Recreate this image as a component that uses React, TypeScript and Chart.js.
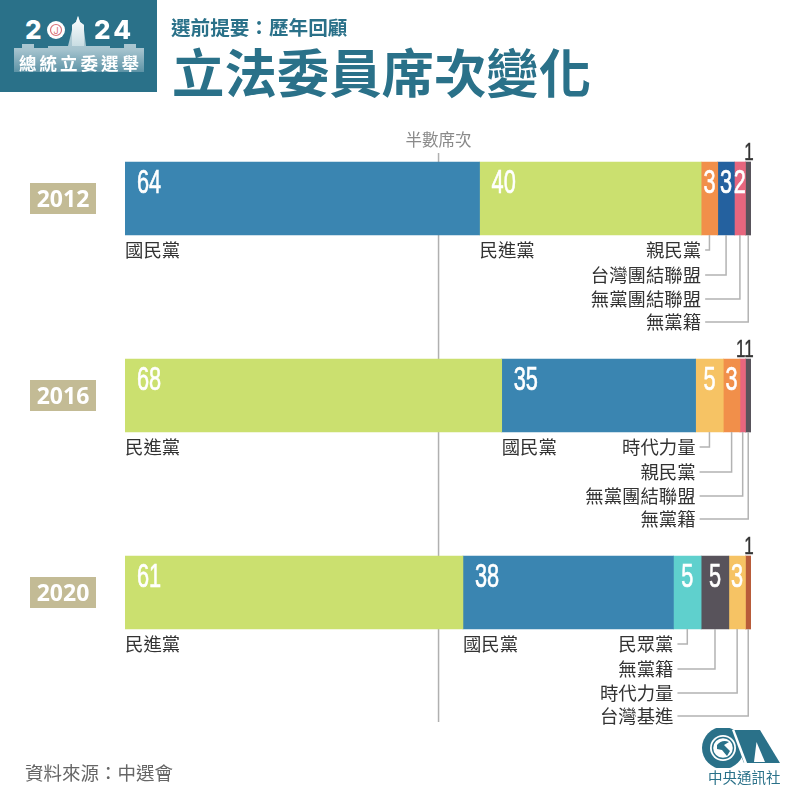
import React, { useEffect, useRef } from "react";
import { Chart, registerables } from "chart.js";

Chart.register(...registerables);

const years = ["2012", "2016", "2020"];
const parties2012 = ["國民黨", "民進黨", "親民黨", "台灣團結聯盟", "無黨團結聯盟", "無黨籍"];
const seats2012 = [64, 40, 3, 3, 2, 1];
const parties2016 = ["民進黨", "國民黨", "時代力量", "親民黨", "無黨團結聯盟", "無黨籍"];
const seats2016 = [68, 35, 5, 3, 1, 1];
const parties2020 = ["民進黨", "國民黨", "民眾黨", "無黨籍", "時代力量", "台灣基進"];
const seats2020 = [61, 38, 5, 5, 3, 1];
const totalSeats = 113;
const halfMark = 56.6;
const halfLabel = "半數席次";

const partyColor: Record<string, string> = {
  國民黨: "#3a85b1",
  民進黨: "#cbe06f",
  親民黨: "#f18f4a",
  台灣團結聯盟: "#24619f",
  無黨團結聯盟: "#e7667e",
  無黨籍: "#58535b",
  時代力量: "#f6c364",
  民眾黨: "#5fd0cd",
  台灣基進: "#b85c3a",
};

const allParties = [parties2012, parties2016, parties2020];
const allSeats = [seats2012, seats2016, seats2020];

const CJK = '"Noto Sans CJK TC", sans-serif';
const BAR = 73;

const annotate = {
  id: "annotate",
  beforeDatasetsDraw(chart: any) {
    const { ctx, scales } = chart;
    const px = scales.x.getPixelForValue(halfMark);
    ctx.save();
    ctx.strokeStyle = "#b0b0b0";
    ctx.lineWidth = 1.5;
    ctx.beginPath();
    ctx.moveTo(px, 153);
    ctx.lineTo(px, 722);
    ctx.stroke();
    ctx.fillStyle = "#8a8a8a";
    ctx.font = `16.5px ${CJK}`;
    ctx.textAlign = "center";
    ctx.textBaseline = "middle";
    ctx.fillText(halfLabel, px, 140);
    ctx.restore();
  },
  afterDatasetsDraw(chart: any) {
    const { ctx, scales } = chart;
    const rows = [15, 40, 64, 87];
    ctx.save();
    ctx.textBaseline = "middle";
    years.forEach((year, yi) => {
      const cy = scales.y.getPixelForValue(yi);
      const top = cy - BAR / 2;
      const bottom = cy + BAR / 2;

      // year tag
      ctx.fillStyle = "#c3bb95";
      ctx.fillRect(30, cy - 15.5, 66, 31);
      ctx.fillStyle = "#ffffff";
      ctx.font = 'bold 23px "Noto Sans", sans-serif';
      ctx.textAlign = "center";
      ctx.fillText(year, 63, cy + 1.5);

      const seats = allSeats[yi];
      const names = allParties[yi];
      let run = 0;
      const starts: number[] = [];
      const ends: number[] = [];
      seats.forEach((s) => {
        starts.push(scales.x.getPixelForValue(run));
        run += s;
        ends.push(scales.x.getPixelForValue(run));
      });

      seats.forEach((s, i) => {
        const mid = (starts[i] + ends[i]) / 2;
        // seat number, squeezed to a condensed form
        ctx.save();
        ctx.font = `34px "Liberation Sans", sans-serif`;
        ctx.textAlign = i < 2 ? "left" : "center";
        let x = i < 2 ? starts[i] + 12 : mid;
        let y = top + 22;
        ctx.fillStyle = "#ffffff";
        if (s === 1) {
          y = top - 9;
          ctx.fillStyle = "#333333";
          if (seats[i + 1] === 1) x -= 2;
          if (x > 748) x = 749;
        }
        ctx.translate(x, y);
        ctx.scale(s === 1 ? 0.5 : 0.64, s === 1 ? 0.72 : 1);
        ctx.strokeStyle = ctx.fillStyle;
        ctx.lineWidth = 0.7;
        ctx.strokeText(String(s), 0, 0);
        ctx.fillText(String(s), 0, 0);
        ctx.restore();

        // party name and leader line
        ctx.font = `18.4px ${CJK}`;
        ctx.fillStyle = "#333333";
        if (i < 2) {
          ctx.textAlign = "left";
          ctx.fillText(names[i], starts[i], bottom + rows[0]);
        } else {
          const textEnd = starts[2];
          const ly = bottom + rows[i - 2];
          ctx.textAlign = "right";
          ctx.fillText(names[i], textEnd, ly);
          ctx.strokeStyle = "#b3b3b3";
          ctx.lineWidth = 1.5;
          ctx.beginPath();
          ctx.moveTo(textEnd + 4, ly);
          ctx.lineTo(mid, ly);
          ctx.lineTo(mid, bottom);
          ctx.stroke();
        }
      });
    });
    ctx.restore();
  },
};

const abs = (left: number, top: number, extra: React.CSSProperties = {}): React.CSSProperties => ({
  position: "absolute",
  left,
  top,
  whiteSpace: "nowrap",
  fontFamily: CJK,
  ...extra,
});

function Emblem() {
  return (
    <div style={{ position: "absolute", left: 0, top: 0, width: 157, height: 92, background: "#2a7189" }}>
      <svg width={157} height={92} style={{ position: "absolute", left: 0, top: 0 }}>
        <defs>
          <linearGradient id="bld" x1="0" y1="0" x2="0" y2="1">
            <stop offset="0" stopColor="#c9dde3" />
            <stop offset="0.6" stopColor="#a5c3ce" />
            <stop offset="1" stopColor="#5d93a6" />
          </linearGradient>
          <linearGradient id="twr" x1="0" y1="0" x2="0" y2="1">
            <stop offset="0" stopColor="#ffffff" />
            <stop offset="1" stopColor="#c9dde3" />
          </linearGradient>
        </defs>
        <path
          d="M14 72 L14 48 L22 48 L22 44 L34 44 L34 48 L48 48 L48 46 L68 46 L72 30 L72 25 L76 22 L78 16 L80 22 L84 25 L84 30 L86 46 L110 46 L110 48 L124 48 L124 44 L136 44 L136 48 L144 48 L144 72 Z"
          fill="url(#bld)"
        />
        <path d="M72 46 L72 25 L76 22 L78 16 L80 22 L84 25 L84 46 Z" fill="url(#twr)" />
        <circle cx="56" cy="30" r="9" fill="#ffffff" />
        <circle cx="56" cy="30" r="5.5" fill="none" stroke="#d9737a" strokeWidth="1.2" />
        <text x="56" y="33.5" textAnchor="middle" fontSize="9" fill="#d9737a" fontFamily="Inter">
          J
        </text>
      </svg>
      <span style={abs(25, 15, { fontFamily: "Inter", fontWeight: 800, fontSize: 26, lineHeight: "30px", color: "#fff" })}>2</span>
      <span style={abs(94, 15, { fontFamily: "Inter", fontWeight: 800, fontSize: 26, lineHeight: "30px", letterSpacing: 3, color: "#fff" })}>24</span>
      <span style={abs(19, 52, { fontWeight: 700, fontSize: 17.5, lineHeight: "22px", letterSpacing: 3, color: "#fff" })}>總統立委選舉</span>
    </div>
  );
}

function Mark() {
  const teal = "#2a7189";
  return (
    <>
      <svg width={90} height={40} style={{ position: "absolute", left: 700, top: 728 }}>
        <circle cx="23" cy="20" r="21" fill={teal} />
        <path d="M30 2 L60 2 L80 35 L44 35 Z" fill={teal} />
        <path d="M32 2 L34.5 2 L49 40 L46 40 Z" fill="#ffffff" />
        <path d="M56.5 14 L65 34 L54 34 Z" fill="#ffffff" />
        <circle cx="23" cy="20" r="13" fill="#ffffff" />
        <circle cx="23" cy="20" r="10.5" fill="none" stroke={teal} strokeWidth="1.4" />
        <path d="M17 17 Q22 11 29 14 L24 17 L30 23 L27 28 L22 22 L17 21 Z" fill={teal} />
      </svg>
      <span style={abs(708, 769, { fontSize: 14.5, lineHeight: "16px", color: teal })}>中央通訊社</span>
    </>
  );
}

export default function App() {
  const ref = useRef<HTMLCanvasElement>(null);
  useEffect(() => {
    const datasets = seats2012.map((_, slot) => ({
      label: `slot ${slot + 1}`,
      data: allSeats.map((s) => s[slot]),
      backgroundColor: allParties.map((p) => partyColor[p[slot]]),
      barThickness: BAR,
      borderWidth: 0,
    }));
    const chart = new Chart(ref.current!, {
      type: "bar",
      data: { labels: years, datasets },
      options: {
        indexAxis: "y",
        animation: false,
        responsive: false,
        layout: { padding: { left: 125, right: 49, top: 100, bottom: 109 } },
        plugins: { legend: { display: false }, tooltip: { enabled: false }, title: { display: false } },
        scales: {
          x: { stacked: true, display: false, min: 0, max: totalSeats },
          y: { stacked: true, display: false },
        },
      },
      plugins: [annotate],
    } as any);
    return () => chart.destroy();
  }, []);
  return (
    <div style={{ position: "absolute", left: 0, top: 0, width: 800, height: 800, background: "#fff", overflow: "hidden" }}>
      <canvas ref={ref} width={800} height={800} style={{ position: "absolute", left: 0, top: 0, display: "block" }} />
      <Emblem />
      <span style={abs(171, 14, { fontWeight: 700, fontSize: 19.6, lineHeight: "26px", color: "#2a7189" })}>選前提要：歷年回顧</span>
      <span style={abs(172, 40, { fontWeight: 700, fontSize: 52.4, lineHeight: "60px", color: "#2a7189" })}>立法委員席次變化</span>
      <span style={abs(25, 759, { fontSize: 18.5, lineHeight: "26px", color: "#666" })}>資料來源：中選會</span>
      <Mark />
    </div>
  );
}
